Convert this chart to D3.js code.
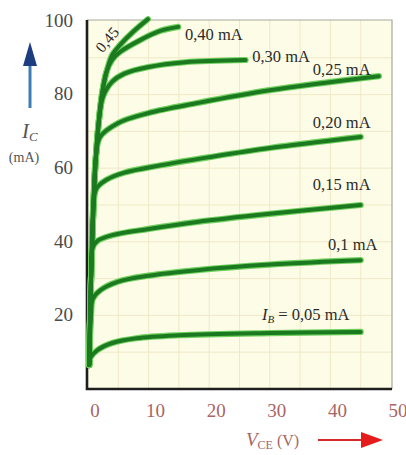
<!DOCTYPE html>
<html>
<head>
<meta charset="utf-8">
<script src="https://cdn.jsdelivr.net/npm/d3@7"></script>
<style>
  html, body { margin: 0; padding: 0; background: #fff; }
  svg { display: block; }
</style>
</head>
<body>
<div id="chart"></div>
<script>
// V_CE (V), I_C (mA), one array per base current
const ib005 = [[0.2, 6.5], [0.4, 8.5], [1.5, 10.5], [4, 12.5], [8, 13.8], [15, 14.6], [30, 15.2], [45, 15.5]];
const ib010 = [[0.2, 6.5], [0.5, 20], [0.8, 24.5], [2, 26.8], [5, 29.2], [10, 30.8], [18, 32.3], [30, 33.8], [45, 35]];
const ib015 = [[0.2, 6.5], [0.5, 30], [0.8, 38.5], [1.6, 40.3], [4, 41.8], [10, 43.5], [18, 45.4], [30, 47.6], [45, 50]];
const ib020 = [[0.2, 6.5], [0.5, 30], [0.9, 50], [1.4, 54.5], [3, 56.8], [6, 58.8], [12, 60.8], [20, 63], [30, 65.5], [45, 68.5]];
const ib025 = [[0.2, 6.5], [0.5, 30], [0.9, 50], [1.3, 63], [2, 68.5], [5, 72.3], [10, 75], [18, 77.7], [30, 81.2], [48, 85]];
const ib030 = [[0.2, 6.5], [0.5, 30], [0.9, 50], [1.3, 63], [1.8, 73], [2.5, 79.5], [4, 83.5], [6, 85.7], [10, 87.5], [16, 88.8], [26, 89.4]];
const ib040 = [[0.2, 6.5], [0.5, 30], [0.9, 50], [1.3, 63], [1.8, 73], [2.3, 80], [3, 86], [4, 89.5], [5.3, 91.6], [8.6, 94.8], [11.9, 97.3], [14.9, 98.4]];
const ib045 = [[0.2, 6.5], [0.5, 30], [0.9, 50], [1.3, 63], [1.8, 73], [2.3, 80], [3.2, 87], [4, 90.8], [5.3, 93.5], [7.4, 97], [9.9, 100.5]];

const curves = [ib005, ib010, ib015, ib020, ib025, ib030, ib040, ib045];

const xTicks = [0, 10, 20, 30, 40, 50];
const yTicks = [20, 40, 60, 80, 100];

// curve labels: text and the (V, mA) point where each one sits
const ibLabels = ["0,40 mA", "0,30 mA", "0,25 mA", "0,20 mA", "0,15 mA", "0,1 mA"];
const ibLabelAt = [[16, 94.8], [27.1, 88.9], [37.1, 85.3], [37.1, 70.9], [37.1, 54.1], [39.6, 37.8]];

const width = 406, height = 455;

const x = d3.scaleLinear().domain([0, 50]).range([88, 391]);
const y = d3.scaleLinear().domain([0, 100]).range([389, 21]);

const svg = d3.select("#chart").append("svg")
  .attr("width", width)
  .attr("height", height);

// plot background + faint grid
svg.append("rect")
  .attr("x", 87).attr("y", 20)
  .attr("width", 305).attr("height", 369)
  .attr("fill", "#fdfce6");

svg.append("g")
  .selectAll("line")
  .data(d3.range(5, 50, 5))
  .enter().append("line")
  .attr("x1", d => x(d)).attr("x2", d => x(d))
  .attr("y1", 20).attr("y2", 389)
  .attr("stroke", "#efe9c8")
  .attr("stroke-width", 1);

svg.append("g")
  .selectAll("line")
  .data(d3.range(10, 100, 10))
  .enter().append("line")
  .attr("x1", 87).attr("x2", 392)
  .attr("y1", d => y(d)).attr("y2", d => y(d))
  .attr("stroke", "#efe9c8")
  .attr("stroke-width", 1);

// frame
svg.append("path")
  .attr("d", "M87,20H392V389")
  .attr("fill", "none")
  .attr("stroke", "#a8a8a0")
  .attr("stroke-width", 1.2);

svg.append("path")
  .attr("d", "M87,20V389H392")
  .attr("fill", "none")
  .attr("stroke", "#1e1e1e")
  .attr("stroke-width", 2.6);

// curves
const line = d3.line()
  .x(d => x(d[0]))
  .y(d => y(d[1]))
  .curve(d3.curveCatmullRom.alpha(0.5));

svg.append("g")
  .selectAll("path")
  .data(curves)
  .enter().append("path")
  .attr("d", line)
  .attr("fill", "none")
  .attr("stroke", "#6fcf5f")
  .attr("stroke-width", 6.2)
  .attr("stroke-linecap", "round");

svg.append("g")
  .selectAll("path")
  .data(curves)
  .enter().append("path")
  .attr("d", line)
  .attr("fill", "none")
  .attr("stroke", "#1b7a1f")
  .attr("stroke-width", 4)
  .attr("stroke-linecap", "round");

// tick labels
svg.append("g")
  .selectAll("text")
  .data(yTicks)
  .enter().append("text")
  .attr("x", 73)
  .attr("y", d => y(d))
  .attr("dy", "0.3em")
  .attr("text-anchor", "end")
  .attr("font-family", "Liberation Serif, serif")
  .attr("font-size", 19)
  .attr("fill", "#4a4a4a")
  .text(d => d);

svg.append("g")
  .selectAll("text")
  .data(xTicks)
  .enter().append("text")
  .attr("x", d => x(d) + 7)
  .attr("y", 417)
  .attr("text-anchor", "middle")
  .attr("font-family", "Liberation Serif, serif")
  .attr("font-size", 19)
  .attr("fill", "#a86565")
  .text(d => d);

// curve labels
const lab = svg.append("g")
  .attr("font-family", "Liberation Serif, serif")
  .attr("font-size", 16.5)
  .attr("fill", "#2a2a2a");

lab.selectAll("text")
  .data(ibLabels)
  .enter().append("text")
  .attr("x", (d, i) => x(ibLabelAt[i][0]))
  .attr("y", (d, i) => y(ibLabelAt[i][1]))
  .text(d => d);

const ibText = lab.append("text")
  .attr("x", x(28.7))
  .attr("y", y(18.8));
ibText.append("tspan").attr("font-style", "italic").text("I");
ibText.append("tspan").attr("font-size", 11).attr("dy", 3).attr("font-style", "italic").text("B");
ibText.append("tspan").attr("dy", -3).text(" = 0,05 mA");

lab.append("text")
  .attr("transform", `translate(${x(2.4)},${y(91.2)}) rotate(-50)`)
  .attr("font-size", 15.5)
  .text("0,45");

// y title + blue arrow
svg.append("line")
  .attr("x1", 30).attr("x2", 30)
  .attr("y1", 108).attr("y2", 62)
  .attr("stroke", "#3d7db4")
  .attr("stroke-width", 3);

svg.append("path")
  .attr("d", "M30,42L37,66L23,66Z")
  .attr("fill", "#1c3d80");

const ic = svg.append("text")
  .attr("x", 22).attr("y", 138)
  .attr("font-family", "Liberation Serif, serif")
  .attr("fill", "#555");
ic.append("tspan").attr("font-style", "italic").attr("font-size", 21).text("I");
ic.append("tspan").attr("font-style", "italic").attr("font-size", 13).attr("dy", 3).text("C");

svg.append("text")
  .attr("x", 24).attr("y", 162)
  .attr("text-anchor", "middle")
  .attr("font-family", "Liberation Serif, serif")
  .attr("font-size", 14)
  .attr("fill", "#555")
  .text("(mA)");

// x title + red arrow
const vce = svg.append("text")
  .attr("x", 246).attr("y", 446)
  .attr("font-family", "Liberation Serif, serif")
  .attr("fill", "#a86565");
vce.append("tspan").attr("font-style", "italic").attr("font-size", 19).text("V");
vce.append("tspan").attr("font-size", 12).attr("dy", 3).text("CE");
vce.append("tspan").attr("font-size", 16).attr("dy", -3).text(" (V)");

svg.append("line")
  .attr("x1", 318).attr("x2", 366)
  .attr("y1", 440).attr("y2", 440)
  .attr("stroke", "#d62a2a")
  .attr("stroke-width", 2);

svg.append("path")
  .attr("d", "M383,440L361,432L361,448Z")
  .attr("fill", "#e51c1c");
</script>
</body>
</html>
